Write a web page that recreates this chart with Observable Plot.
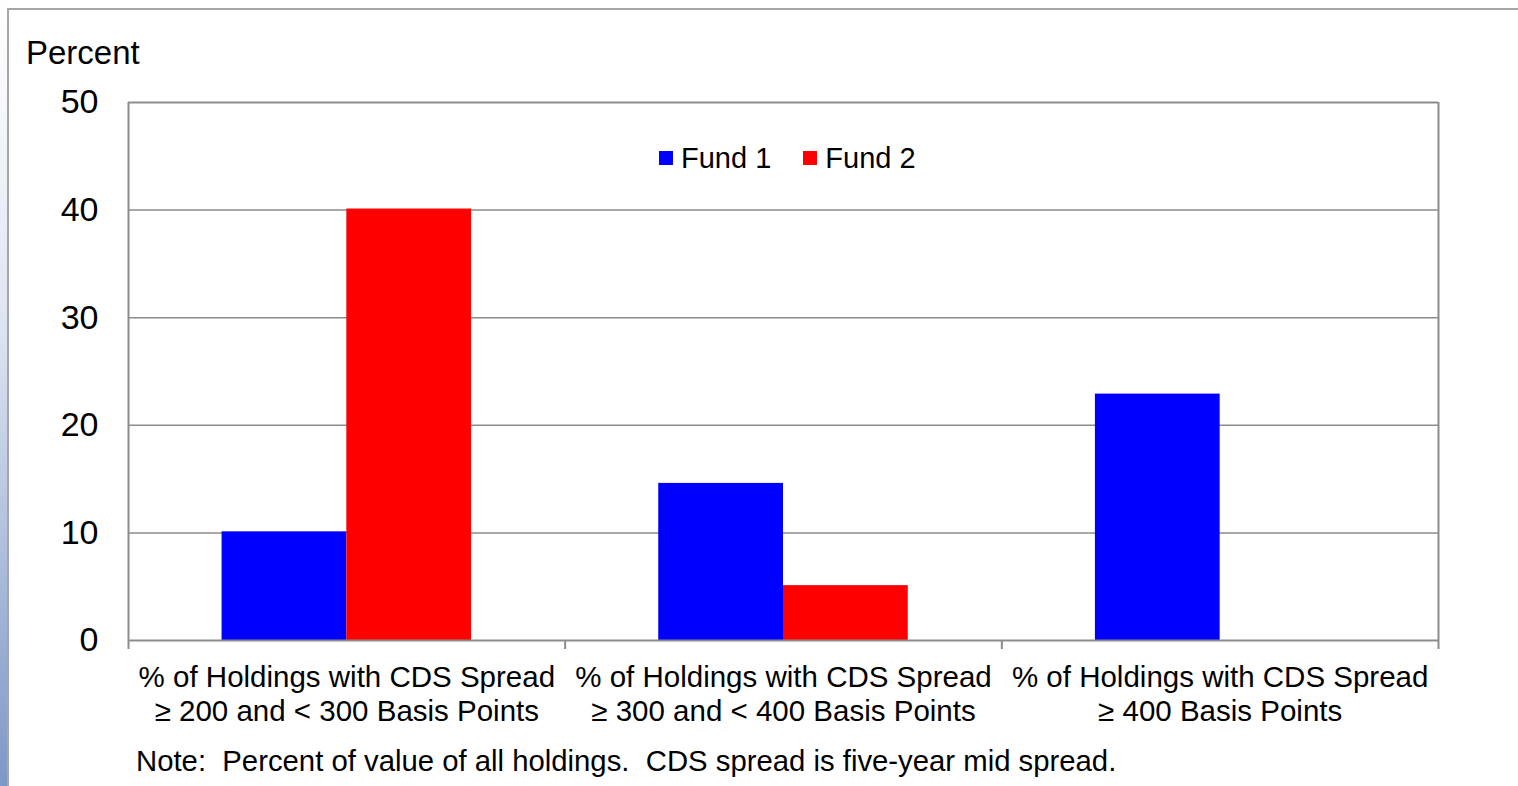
<!DOCTYPE html>
<html>
<head>
<meta charset="utf-8">
<script src="https://cdn.jsdelivr.net/npm/d3@7"></script>
<script src="https://cdn.jsdelivr.net/npm/@observablehq/plot@0.6"></script>
<style>
  html, body { margin: 0; padding: 0; background: #fff; }
  body { width: 1518px; height: 786px; overflow: hidden; position: relative; font-family: "Liberation Sans", Arial, sans-serif; color: #000; }
  #strip { position: absolute; left: 0; top: 0; width: 7px; height: 786px; background: linear-gradient(to bottom, #ffffff 0%, #dfe6f2 40%, #7d97c6 100%); }
  #frame { position: absolute; left: 7px; top: 8px; width: 1520px; height: 800px; border-top: 2px solid #a6a6a6; border-left: 2px solid #a6a6a6; }
  #ylabel { position: absolute; left: 26px; top: 33px; font-size: 33px; line-height: 40px; }
  #chart { position: absolute; left: 0; top: 80px; }
  #legend { position: absolute; left: 659px; top: 142px; font-size: 29px; line-height: 32px; display: flex; align-items: center; white-space: nowrap; }
  #legend .sw { display: inline-block; width: 14px; height: 14px; margin-right: 8px; }
  #legend .item { display: flex; align-items: center; margin-right: 32px; }
  #note { position: absolute; left: 136px; top: 744px; font-size: 29.3px; line-height: 34px; white-space: pre; }
</style>
</head>
<body>
<div id="strip"></div>
<div id="frame"></div>
<div id="ylabel">Percent</div>
<div id="chart"></div>
<div id="legend"></div>
<div id="note">Note:  Percent of value of all holdings.  CDS spread is five-year mid spread.</div>
<script>
const categories = [
  "% of Holdings with CDS Spread\n≥ 200 and < 300 Basis Points",
  "% of Holdings with CDS Spread\n≥ 300 and < 400 Basis Points",
  "% of Holdings with CDS Spread\n≥ 400 Basis Points"
];
const funds = ["Fund 1", "Fund 2"];
const fund1 = [10.1, 14.6, 22.9];
const fund2 = [40.1, 5.1, 0];
const fundColors = ["#0000ff", "#ff0000"];
const yTicks = [0, 10, 20, 30, 40, 50];

// Build table
const rows = [];
categories.forEach((c, i) => {
  rows.push({cat: c, ci: i, fund: funds[0], value: fund1[i]});
  rows.push({cat: c, ci: i, fund: funds[1], value: fund2[i]});
});

// Position funds within each category unit using a d3 band scale
const inner = d3.scaleBand().domain(funds).range([0, 1]).paddingInner(0).paddingOuter(0.75);
rows.forEach(r => { r.x1 = r.ci + inner(r.fund); r.x2 = r.x1 + inner.bandwidth(); });

const boundaries = d3.range(categories.length + 1);
const centers = categories.map((c, i) => i + 0.5);
const gray = "#8c8c8c";

const plot = Plot.plot({
  width: 1518,
  height: 660,
  marginTop: 22,
  marginBottom: 100,
  marginLeft: 128,
  marginRight: 80,
  style: { fontFamily: "'Liberation Sans', Arial, sans-serif", color: "#000", background: "transparent" },
  x: { type: "linear", domain: [0, categories.length], label: null },
  y: { domain: [0, 50], label: null },
  color: { domain: funds, range: fundColors },
  marks: [
    Plot.ruleY(yTicks.filter(t => t > 0 && t < 50), { stroke: gray, strokeWidth: 1.5 }),
    Plot.rectY(rows, { x1: "x1", x2: "x2", y: "value", fill: "fund" }),
    Plot.ruleY([0], { stroke: gray, strokeWidth: 2 }),
    Plot.ruleY([50], { stroke: gray, strokeWidth: 2 }),
    Plot.ruleX([0, categories.length], { stroke: gray, strokeWidth: 2 }),
    Plot.axisX(boundaries, { tickSize: 9, stroke: gray, strokeWidth: 2, tickFormat: () => "", label: null }),
    Plot.axisX(centers, {
      tickSize: 0, tickPadding: 22, fontSize: 29.5, lineHeight: 1.15, label: null,
      tickFormat: d => categories[Math.round(d - 0.5)], fill: "#000"
    }),
    Plot.axisY(yTicks, { tickSize: 0, tickPadding: 30, fontSize: 34, fill: "#000", label: null })
  ]
});
document.getElementById("chart").appendChild(plot);

// Legend
const lg = document.getElementById("legend");
funds.forEach((f, i) => {
  const item = document.createElement("span");
  item.className = "item";
  const sw = document.createElement("span");
  sw.className = "sw";
  sw.style.background = fundColors[i];
  item.appendChild(sw);
  item.appendChild(document.createTextNode(f));
  lg.appendChild(item);
});
</script>
</body>
</html>
